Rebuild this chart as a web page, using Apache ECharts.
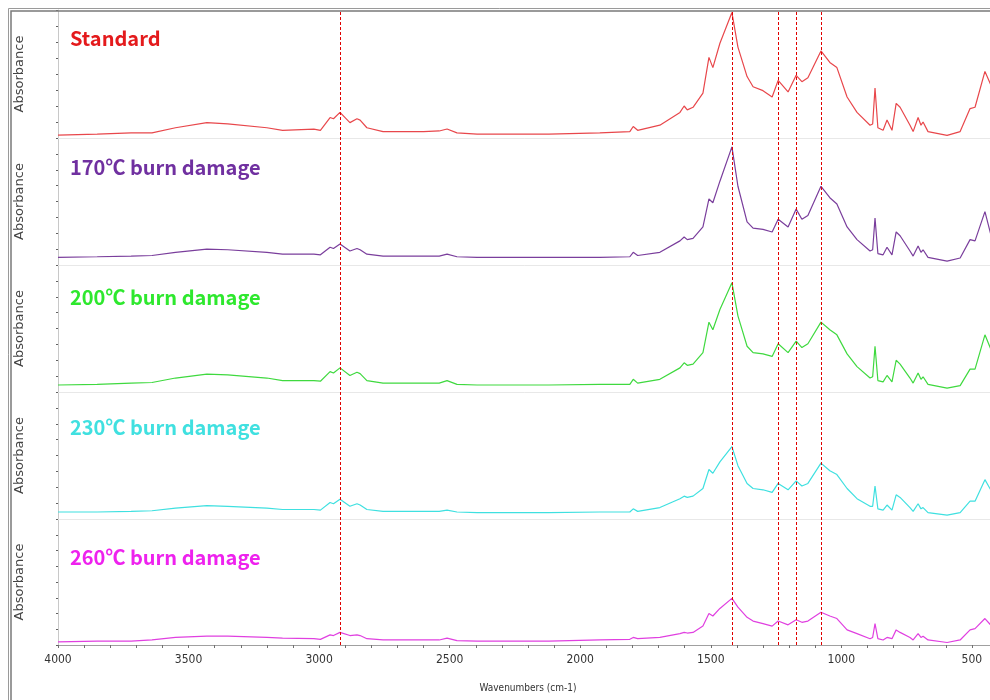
<!DOCTYPE html>
<html>
<head>
<meta charset="utf-8">
<script src="https://cdn.jsdelivr.net/npm/echarts@6/dist/echarts.min.js"></script>
<style>html,body{margin:0;padding:0;background:#fff;}#chart{width:990px;height:700px;}</style>
</head>
<body>
<div id="chart"></div>
<script>
// ---- data ----
var wavenumbers = [4000,3850,3720,3640,3550,3430,3350,3200,3140,3020,2995,2958,2945,2920,2882,2855,2843,2817,2755,2600,2540,2510,2472,2395,2120,1925,1810,1797,1780,1695,1618,1602,1590,1568,1530,1507,1492,1465,1419,1396,1361,1338,1300,1265,1242,1204,1173,1151,1128,1078,1044,1017,978,940,890,880,871,860,840,825,806,790,775,768,737,725,706,695,687,668,595,545,507,488,450,420];

var standardAbs = [0.023,0.03,0.04,0.04,0.08,0.12,0.11,0.08,0.06,0.07,0.06,0.16,0.15,0.20,0.12,0.15,0.14,0.08,0.05,0.05,0.055,0.07,0.04,0.03,0.03,0.04,0.05,0.09,0.06,0.10,0.20,0.25,0.22,0.24,0.35,0.63,0.55,0.74,0.98,0.71,0.48,0.40,0.37,0.32,0.45,0.36,0.49,0.44,0.47,0.68,0.59,0.55,0.32,0.20,0.10,0.11,0.39,0.08,0.06,0.14,0.06,0.27,0.24,0.25,0.10,0.05,0.16,0.10,0.125,0.05,0.02,0.05,0.23,0.24,0.52,0.38];

var burn170Abs = [0.06,0.065,0.07,0.075,0.10,0.125,0.12,0.10,0.085,0.085,0.08,0.14,0.13,0.165,0.11,0.13,0.12,0.085,0.07,0.07,0.07,0.085,0.065,0.06,0.06,0.06,0.065,0.10,0.075,0.10,0.19,0.22,0.20,0.21,0.30,0.52,0.49,0.66,0.93,0.62,0.34,0.29,0.28,0.26,0.36,0.30,0.44,0.36,0.39,0.62,0.53,0.48,0.30,0.20,0.11,0.12,0.37,0.09,0.08,0.14,0.08,0.26,0.23,0.24,0.11,0.07,0.15,0.10,0.12,0.06,0.03,0.055,0.20,0.19,0.42,0.18];

var burn200Abs = [0.055,0.06,0.07,0.075,0.11,0.14,0.135,0.11,0.09,0.09,0.085,0.16,0.15,0.19,0.13,0.155,0.145,0.09,0.07,0.07,0.07,0.09,0.06,0.055,0.055,0.06,0.06,0.10,0.07,0.10,0.19,0.23,0.21,0.22,0.31,0.55,0.49,0.65,0.86,0.60,0.36,0.31,0.30,0.28,0.38,0.31,0.40,0.35,0.38,0.55,0.49,0.45,0.30,0.20,0.11,0.12,0.36,0.09,0.08,0.13,0.08,0.25,0.22,0.23,0.11,0.07,0.15,0.10,0.12,0.06,0.03,0.05,0.18,0.18,0.45,0.30];

var burn230Abs = [0.055,0.055,0.06,0.065,0.085,0.105,0.10,0.085,0.075,0.075,0.07,0.13,0.12,0.155,0.10,0.12,0.11,0.075,0.06,0.06,0.06,0.07,0.055,0.05,0.05,0.055,0.055,0.08,0.06,0.09,0.16,0.18,0.17,0.18,0.24,0.39,0.36,0.45,0.57,0.42,0.28,0.24,0.23,0.21,0.28,0.23,0.30,0.26,0.28,0.44,0.38,0.35,0.24,0.16,0.10,0.10,0.26,0.08,0.07,0.11,0.07,0.19,0.17,0.17,0.09,0.06,0.12,0.08,0.09,0.05,0.03,0.05,0.14,0.14,0.31,0.20];

var burn260Abs = [0.025,0.03,0.03,0.04,0.06,0.07,0.07,0.06,0.055,0.05,0.045,0.08,0.075,0.10,0.075,0.08,0.075,0.05,0.04,0.04,0.04,0.055,0.035,0.03,0.03,0.04,0.045,0.06,0.05,0.06,0.09,0.10,0.095,0.10,0.15,0.25,0.23,0.29,0.37,0.30,0.22,0.19,0.17,0.15,0.19,0.16,0.20,0.18,0.19,0.26,0.23,0.21,0.12,0.09,0.05,0.06,0.17,0.05,0.04,0.06,0.05,0.12,0.10,0.11,0.06,0.04,0.09,0.06,0.07,0.04,0.02,0.04,0.12,0.13,0.21,0.14];

var seriesNames = ['Standard','170\u2103 burn damage','200\u2103 burn damage','230\u2103 burn damage','260\u2103 burn damage'];
var peakMarkers = [2920,1419,1242,1173,1078];
var xTickLabels = [4000,3500,3000,2500,2000,1500,1000,500];

// ---- layout / style ----
var seriesData = [standardAbs, burn170Abs, burn200Abs, burn230Abs, burn260Abs];
var lineColors = ['#e8474b','#7a3e9c','#3fd93f','#3fe0e0','#e040e0'];
var textColors = ['#e41a1c','#7030a0','#2ee82e','#40e0e0','#ee22ee'];
var gridTops = [10,138,265,392,519];
var gridHeights = [128,127,127,127,126];
var titleY = [38,167,297,427,557];
var LEFT = 58, WIDTH = 940;
var narrowFont = '"Liberation Sans Narrow", "Arial Narrow", "DejaVu Sans Condensed", "Roboto", sans-serif';

var grids = [], xAxes = [], yAxes = [], series = [], graphics = [];
for (var i = 0; i < 5; i++) {
  grids.push({left: LEFT, width: WIDTH, top: gridTops[i], height: gridHeights[i], outerBoundsMode: 'none', containLabel: false});
  var isLast = (i === 4);
  xAxes.push({
    type: 'value', gridIndex: i, min: 400, max: 4000, interval: 100, inverse: true,
    axisLine: {show: true, onZero: false, lineStyle: {color: isLast ? '#a0a0a0' : '#e8e8e8', width: 1}},
    axisTick: {show: isLast, length: 3, lineStyle: {color: '#707070'}},
    axisLabel: {show: isLast, margin: 9, color: '#333', fontSize: 12, fontFamily: narrowFont,
      formatter: function (v) { return xTickLabels.indexOf(v) >= 0 ? String(v) : ''; }},
    splitLine: {show: false},
    name: isLast ? 'Wavenumbers (cm-1)' : '',
    nameLocation: 'middle', nameGap: 38,
    nameTextStyle: {color: '#333', fontSize: 10, fontFamily: narrowFont}
  });
  yAxes.push({
    type: 'value', gridIndex: i, min: 0, max: 1, interval: 0.125,
    axisLine: {show: true, lineStyle: {color: '#c8c8c8'}},
    axisTick: {show: true, length: 2, lineStyle: {color: '#606060'}},
    axisLabel: {show: false},
    splitLine: {show: false},
    name: 'Absorbance', nameLocation: 'middle', nameRotate: 90, nameGap: 32,
    nameTextStyle: {color: '#444', fontSize: 13, fontFamily: '"DejaVu Sans", sans-serif'}
  });
  (function (vals) {
    series.push({
      type: 'line', xAxisIndex: i, yAxisIndex: i, showSymbol: false, symbol: 'none',
      name: seriesNames[i], animation: false,
      lineStyle: {color: lineColors[i], width: 1.2},
      data: wavenumbers.map(function (w, k) { return [w, vals[k]]; })
    });
  })(seriesData[i]);
  graphics.push({
    type: 'text', x: 70, y: titleY[i],
    style: {text: seriesNames[i], fill: textColors[i], verticalAlign: 'middle',
      font: 'bold 20px "Noto Sans CJK KR", "Noto Sans", sans-serif'}
  });
}
// full-height overlay for peak marker lines
grids.push({left: LEFT, width: WIDTH, top: 10, height: 635, outerBoundsMode: 'none', containLabel: false});
xAxes.push({type: 'value', gridIndex: 5, min: 400, max: 4000, inverse: true, show: false});
yAxes.push({type: 'value', gridIndex: 5, min: 0, max: 1, show: false});
series.push({
  type: 'line', xAxisIndex: 5, yAxisIndex: 5, data: [], animation: false,
  markLine: {
    silent: true, symbol: ['none','none'], animation: false,
    label: {show: false},
    lineStyle: {color: '#e00000', type: [3, 2], width: 1},
    data: peakMarkers.map(function (v) { return {xAxis: v}; })
  }
});
// window-like frame
graphics.push({type: 'rect', shape: {x: 8.5, y: 8.5, width: 1000, height: 720}, style: {fill: 'none', stroke: '#9a9a9a', lineWidth: 1}, z: 10});
graphics.push({type: 'rect', shape: {x: 11, y: 11, width: 1000, height: 720}, style: {fill: 'none', stroke: '#7a7a7a', lineWidth: 1.5}, z: 10});

var chart = echarts.init(document.getElementById('chart'), null, {renderer: 'canvas'});
chart.setOption({
  animation: false,
  backgroundColor: '#fff',
  grid: grids, xAxis: xAxes, yAxis: yAxes, series: series,
  graphic: graphics
});
</script>
</body>
</html>
